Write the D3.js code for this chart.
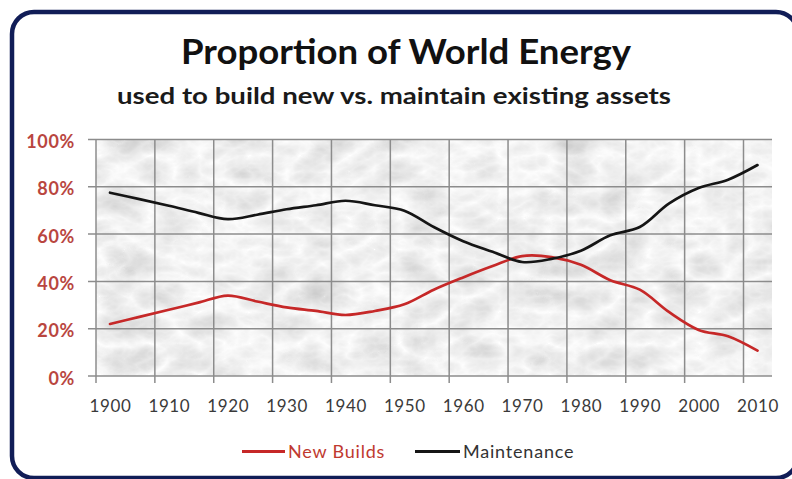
<!DOCTYPE html>
<html>
<head>
<meta charset="utf-8">
<script src="https://cdn.jsdelivr.net/npm/d3@7/dist/d3.min.js"></script>
<style>
  html, body { margin: 0; padding: 0; background: #ffffff; }
  svg { display: block; }
</style>
</head>
<body>
<svg id="chart" width="792" height="479"></svg>
<script>
// Share of world energy: building new assets vs. maintaining existing ones
const years = [1900, 1905, 1910, 1915, 1920, 1925, 1930, 1935, 1940, 1945, 1950, 1955,
               1960, 1965, 1970, 1975, 1980, 1985, 1990, 1995, 2000, 2005, 2010];
const newBuilds = [0.22, 0.25, 0.28, 0.31, 0.34, 0.315, 0.29, 0.275, 0.258, 0.275, 0.303, 0.365,
                   0.417, 0.465, 0.507, 0.503, 0.47, 0.405, 0.365, 0.27, 0.195, 0.168, 0.107];
const maintenance = [0.775, 0.748, 0.72, 0.69, 0.663, 0.682, 0.705, 0.722, 0.741, 0.722, 0.699, 0.63,
                     0.57, 0.525, 0.482, 0.495, 0.53, 0.595, 0.63, 0.73, 0.795, 0.83, 0.892];
const xTickYears = [1900, 1910, 1920, 1930, 1940, 1950, 1960, 1970, 1980, 1990, 2000, 2010];
const yTicks = [0, 0.2, 0.4, 0.6, 0.8, 1.0];
const seriesNames = ["New Builds", "Maintenance"];

const svg = d3.select("#chart");

// plot frame
const plot = { left: 96, right: 772, top: 139.5, bottom: 376 };
const gridShift = -14;          // grid/tick lines sit a little left of each label
const x = d3.scaleLinear().domain([1900, 2010]).range([110, 757.5]);
const y = d3.scaleLinear().domain([0, 1]).range([plot.bottom, plot.top]);

// outer rounded frame
svg.append("rect")
  .attr("x", 12).attr("y", 12)
  .attr("width", 792 - 12 + 6).attr("height", 479 - 12 - 1)
  .attr("rx", 22).attr("ry", 22)
  .attr("fill", "#ffffff")
  .attr("stroke", "#111d57").attr("stroke-width", 4.5);

// marble texture for the plot background
const defs = svg.append("defs");
const marble = defs.append("filter")
  .attr("id", "marble")
  .attr("filterUnits", "userSpaceOnUse")
  .attr("x", plot.left).attr("y", plot.top)
  .attr("width", plot.right - plot.left).attr("height", plot.bottom - plot.top);
marble.append("feTurbulence")
  .attr("type", "turbulence")
  .attr("baseFrequency", "0.02 0.032")
  .attr("numOctaves", 4)
  .attr("seed", 11)
  .attr("result", "noise");
marble.append("feColorMatrix")
  .attr("in", "noise")
  .attr("type", "matrix")
  .attr("values",
    "-0.4 0 0 0 1.0 " +
    "-0.4 0 0 0 1.0 " +
    "-0.4 0 0 0 1.0 " +
    "0 0 0 0 1")
  .attr("result", "grey");
marble.append("feGaussianBlur")
  .attr("in", "grey").attr("stdDeviation", 0.6).attr("result", "soft");
marble.append("feComposite")
  .attr("in", "soft").attr("in2", "SourceGraphic").attr("operator", "in");

svg.append("rect")
  .attr("x", plot.left).attr("y", plot.top)
  .attr("width", plot.right - plot.left).attr("height", plot.bottom - plot.top)
  .attr("fill", "#f2f2f2")
  .attr("filter", "url(#marble)");

// gridlines
const gridColor = "#8c8c8c";
svg.append("g").selectAll("line").data(yTicks).join("line")
  .attr("x1", plot.left - 8).attr("x2", plot.right)
  .attr("y1", d => y(d)).attr("y2", d => y(d))
  .attr("stroke", gridColor).attr("stroke-width", 1.5);

svg.append("g").selectAll("line").data(xTickYears).join("line")
  .attr("x1", d => x(d) + gridShift).attr("x2", d => x(d) + gridShift)
  .attr("y1", plot.top).attr("y2", plot.bottom + 7)
  .attr("stroke", gridColor).attr("stroke-width", 1.5);

// y axis labels
const yAxis = d3.axisLeft(y).tickValues(yTicks).tickFormat(d3.format(".0%")).tickSize(0).tickPadding(0);
const yg = svg.append("g").attr("transform", `translate(75,0)`).call(yAxis);
yg.select(".domain").remove();
yg.selectAll("text")
  .attr("font-family", "Lato, 'Open Sans', sans-serif")
  .attr("font-weight", "bold")
  .attr("font-size", 18)
  .attr("letter-spacing", 0.7)
  .attr("fill", "#b9463f")
  .attr("dy", "0.45em");

// x axis labels
const xAxis = d3.axisBottom(x).tickValues(xTickYears).tickFormat(d3.format("d")).tickSize(0).tickPadding(0);
const xg = svg.append("g").attr("transform", `translate(0,${plot.bottom})`).call(xAxis);
xg.select(".domain").remove();
xg.selectAll("text")
  .attr("font-family", "Lato, 'Open Sans', sans-serif")
  .attr("font-size", 17)
  .attr("letter-spacing", 0.6)
  .attr("fill", "#3a3a3a")
  .attr("dy", "0")
  .attr("y", 35.5);

// series lines
const line = d3.line()
  .x((d, i) => x(years[i]))
  .y(d => y(d))
  .curve(d3.curveCatmullRom.alpha(0.5));

const seriesColors = ["#c62828", "#151515"];
[newBuilds, maintenance].forEach((vals, k) => {
  svg.append("path")
    .datum(vals)
    .attr("d", line)
    .attr("fill", "none")
    .attr("stroke", seriesColors[k])
    .attr("stroke-width", 2.7)
    .attr("stroke-linejoin", "round")
    .attr("stroke-linecap", "round");
});

// title and subtitle
svg.append("text")
  .attr("x", 406).attr("y", 64)
  .attr("text-anchor", "middle")
  .attr("font-family", "Lato, 'Open Sans', sans-serif")
  .attr("font-weight", "bold")
  .attr("font-size", 35)
  .attr("fill", "#111111")
  .attr("textLength", 450).attr("lengthAdjust", "spacingAndGlyphs")
  .text("Proportion of World Energy");

svg.append("text")
  .attr("x", 394).attr("y", 104)
  .attr("text-anchor", "middle")
  .attr("font-family", "Lato, 'Open Sans', sans-serif")
  .attr("font-weight", "bold")
  .attr("font-size", 23)
  .attr("fill", "#1a1a1a")
  .attr("textLength", 554).attr("lengthAdjust", "spacingAndGlyphs")
  .text("used to build new vs. maintain existing assets");

// legend
const legendItems = [
  { name: seriesNames[0], color: seriesColors[0], text: "#c0392f", x1: 242, x2: 285 },
  { name: seriesNames[1], color: seriesColors[1], text: "#333333", x1: 415, x2: 460 }
];
const lg = svg.append("g");
legendItems.forEach(it => {
  lg.append("line")
    .attr("x1", it.x1).attr("x2", it.x2)
    .attr("y1", 451.5).attr("y2", 451.5)
    .attr("stroke", it.color).attr("stroke-width", 3);
  lg.append("text")
    .attr("x", it.x2 + 3).attr("y", 458)
    .attr("font-family", "Lato, 'Open Sans', sans-serif")
    .attr("font-size", 18)
    .attr("letter-spacing", 0.8)
    .attr("fill", it.text)
    .text(it.name);
});
</script>
</body>
</html>
